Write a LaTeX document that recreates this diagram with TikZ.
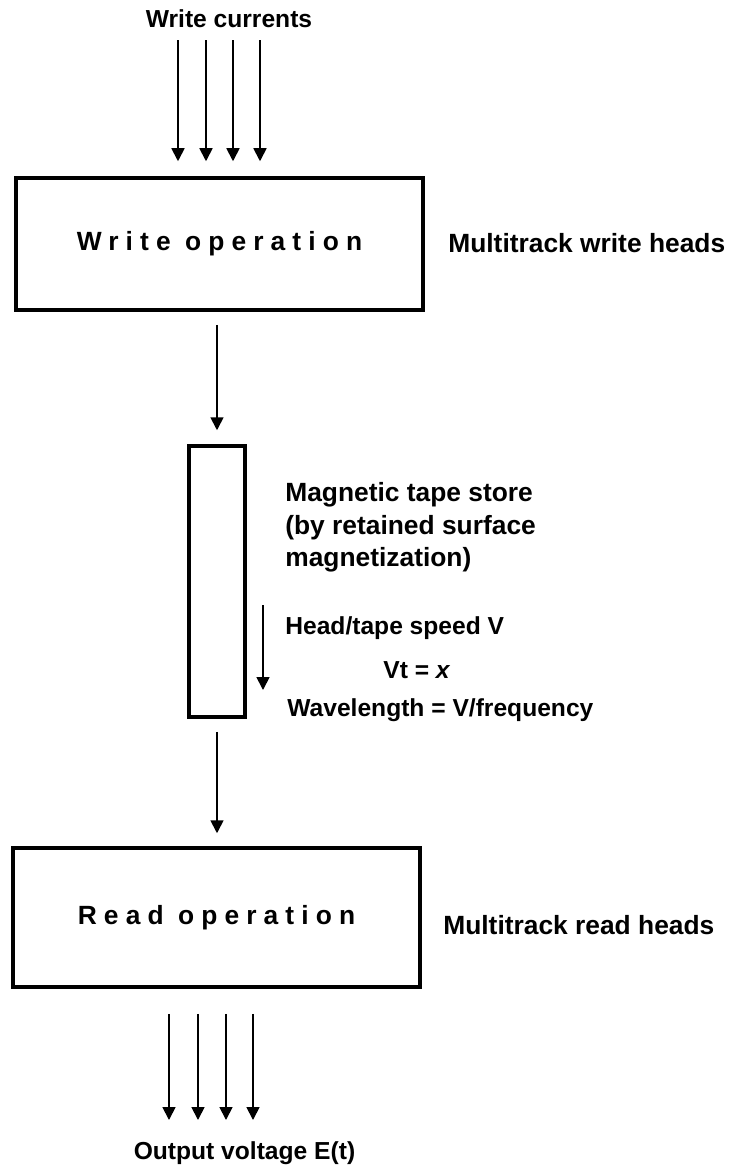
\documentclass[tikz,border=0pt]{standalone}
\usepackage{fontspec}
\setmainfont{Liberation Sans}
\newfontfamily\widefont[LetterSpace=27]{Liberation Sans}
\usetikzlibrary{arrows.meta, positioning}
\tikzstyle{opbox} = [draw, line width=2pt, minimum width=81.4mm, inner sep=0pt, font=\widefont\bfseries\fontsize{15}{18}\selectfont]
\tikzstyle{tapebox} = [draw, line width=2pt, minimum width=11.2mm, minimum height=54.2mm, inner sep=0pt]
\tikzstyle{lbl} = [anchor=west, inner sep=0pt, font=\bfseries\fontsize{15}{18.5}\selectfont]
\tikzstyle{sml} = [inner sep=0pt, font=\bfseries\fontsize{14}{17}\selectfont]
\tikzstyle{line} = [draw, line width=1pt, -{Triangle[length=2.6mm, width=2.6mm]}]

\begin{document}
\begin{tikzpicture}[x=0.2mm, y=-0.2mm]
			\useasboundingbox (0,0) rectangle (734,1170);
			
			\node [opbox, minimum height=26.4mm] (write) at (219.5,244) {Write operation};
			\node [tapebox] (tape) at (217,581.5) {};
			\node [opbox, minimum height=27.8mm] (read) at (216.5,917.5) {Read operation};
			
			\node [sml] (wcur) at (229,19) {Write currents};
			\node [lbl] (wheads) at (448,243) {Multitrack write heads};
			\node [lbl, align=left] (store) at (285,527.5) {Magnetic tape store\\(by retained surface\\magnetization)};
			\node [sml, anchor=west] (speed) at (285,628) {Head/tape speed V};
			\node [sml, anchor=west] (vt) at (383,670) {Vt = \textit{x}};
			\node [sml, anchor=west] (wave) at (287,710) {Wavelength = V/frequency};
			\node [lbl] (rheads) at (443,925) {Multitrack read heads};
			\node [sml] (vout) at (244.5,1153) {Output voltage E(t)};
			
			\coordinate (w1) at (178,40);
			\coordinate (w2) at (206,40);
			\coordinate (w3) at (233,40);
			\coordinate (w4) at (260,40);
			\coordinate (s1) at (263,605);
			\coordinate (s2) at (263,690);
			\coordinate (o1) at (169,1120);
			\coordinate (o2) at (198,1120);
			\coordinate (o3) at (226,1120);
			\coordinate (o4) at (253,1120);
			
			\path [line, shorten >=3mm] (w1) -- (w1 |- write.north);
			\path [line, shorten >=3mm] (w2) -- (w2 |- write.north);
			\path [line, shorten >=3mm] (w3) -- (w3 |- write.north);
			\path [line, shorten >=3mm] (w4) -- (w4 |- write.north);
			\path [line, shorten <=2.6mm, shorten >=2.8mm] (tape.north |- write.south) -- (tape.north);
			\path [line] (s1) -- (s2);
			\path [line, shorten <=2.6mm, shorten >=2.6mm] (tape.south) -- (tape.south |- read.north);
			\path [line, shorten <=5mm] (o1 |- read.south) -- (o1);
			\path [line, shorten <=5mm] (o2 |- read.south) -- (o2);
			\path [line, shorten <=5mm] (o3 |- read.south) -- (o3);
			\path [line, shorten <=5mm] (o4 |- read.south) -- (o4);
		\end{tikzpicture}
\end{document}
